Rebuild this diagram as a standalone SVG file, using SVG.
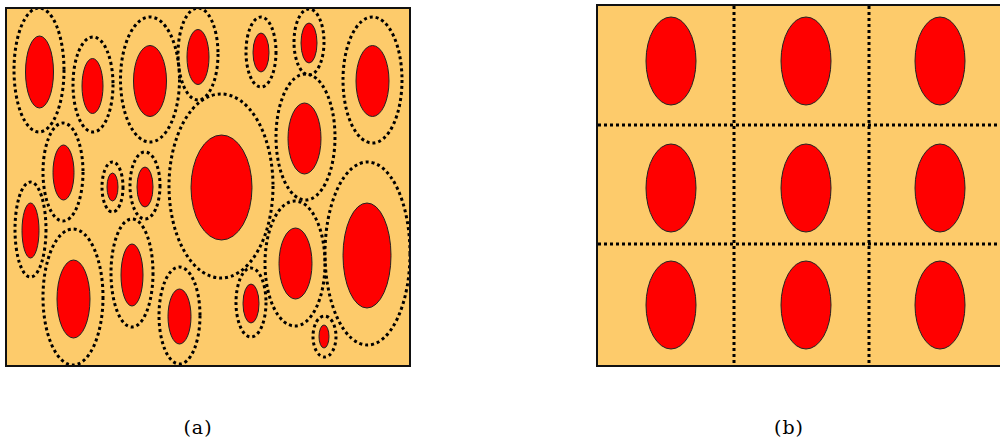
<svg xmlns="http://www.w3.org/2000/svg" width="1000" height="442" viewBox="0 0 1000 442">
<style>
.bg{fill:#FDCB6B;stroke:#111;stroke-width:2}
.cell{fill:#FF0000;stroke:#222;stroke-width:1}
.ring{fill:none;stroke:#000;stroke-width:3;stroke-dasharray:3 3}
.grid{fill:none;stroke:#000;stroke-width:3;stroke-dasharray:3 3}
.lbl{font-family:"DejaVu Serif","Liberation Serif",serif;font-size:19px;letter-spacing:1px;fill:#000;text-anchor:middle}
</style>
<defs>
<clipPath id="clipA"><rect x="6" y="8" width="404" height="357"/></clipPath>
</defs>
<rect class="bg" x="6" y="8" width="404" height="358"/>
<g clip-path="url(#clipA)">
<g id="a1"><ellipse class="ring" cx="39" cy="70" rx="25" ry="62"/><ellipse class="cell" cx="39.5" cy="72" rx="14" ry="36"/></g>
<g id="a2"><ellipse class="ring" cx="93" cy="84.5" rx="20" ry="47.5"/><ellipse class="cell" cx="92.5" cy="86" rx="10.5" ry="27.5"/></g>
<g id="a3"><ellipse class="ring" cx="150" cy="79.5" rx="29.5" ry="62.5"/><ellipse class="cell" cx="150" cy="81" rx="16.5" ry="35.5"/></g>
<g id="a4"><ellipse class="ring" cx="198" cy="54" rx="20" ry="46"/><ellipse class="cell" cx="198" cy="57" rx="11" ry="27.5"/></g>
<g id="a5"><ellipse class="ring" cx="261" cy="52" rx="15" ry="35"/><ellipse class="cell" cx="261" cy="52.5" rx="8" ry="19.5"/></g>
<g id="a6"><ellipse class="ring" cx="309" cy="42" rx="15" ry="33"/><ellipse class="cell" cx="309" cy="43" rx="8" ry="20"/></g>
<g id="a7"><ellipse class="ring" cx="372.5" cy="80" rx="29.5" ry="63"/><ellipse class="cell" cx="372.5" cy="81" rx="16.5" ry="35.5"/></g>
<g id="a8"><ellipse class="ring" cx="221" cy="186" rx="52" ry="92"/><ellipse class="cell" cx="221.5" cy="187.5" rx="30.5" ry="52.5"/></g>
<g id="a9"><ellipse class="ring" cx="305.5" cy="137" rx="29.5" ry="63"/><ellipse class="cell" cx="304.5" cy="138.5" rx="16.5" ry="35.5"/></g>
<g id="a10"><ellipse class="ring" cx="367.5" cy="253.5" rx="42.5" ry="91.5"/><ellipse class="cell" cx="367" cy="255.5" rx="24" ry="52.5"/></g>
<g id="a11"><ellipse class="ring" cx="295" cy="263.5" rx="30" ry="62.5"/><ellipse class="cell" cx="295.5" cy="263.5" rx="16.5" ry="35.5"/></g>
<g id="a12"><ellipse class="ring" cx="251" cy="302.5" rx="15" ry="34.5"/><ellipse class="cell" cx="251" cy="303.5" rx="8" ry="19.5"/></g>
<g id="a13"><ellipse class="ring" cx="324.5" cy="336.5" rx="11.5" ry="20.5"/><ellipse class="cell" cx="324" cy="336.5" rx="5" ry="11.5"/></g>
<g id="a14"><ellipse class="ring" cx="179.5" cy="315.5" rx="20.5" ry="48.5"/><ellipse class="cell" cx="179.5" cy="316.5" rx="11.5" ry="27.5"/></g>
<g id="a15"><ellipse class="ring" cx="132" cy="273" rx="21" ry="54"/><ellipse class="cell" cx="132" cy="275" rx="11" ry="31"/></g>
<g id="a16"><ellipse class="ring" cx="73" cy="297" rx="30" ry="68"/><ellipse class="cell" cx="73.5" cy="299" rx="16.5" ry="39"/></g>
<g id="a17"><ellipse class="ring" cx="30.5" cy="229.5" rx="15.5" ry="47.5"/><ellipse class="cell" cx="30.5" cy="230.5" rx="8.5" ry="27.5"/></g>
<g id="a18"><ellipse class="ring" cx="63" cy="172" rx="20" ry="49"/><ellipse class="cell" cx="63.5" cy="172.5" rx="10.5" ry="27.5"/></g>
<g id="a19"><ellipse class="ring" cx="112.5" cy="187" rx="10.5" ry="25"/><ellipse class="cell" cx="112.5" cy="187" rx="5.5" ry="14"/></g>
<g id="a20"><ellipse class="ring" cx="145" cy="185.5" rx="15" ry="33.5"/><ellipse class="cell" cx="145" cy="187" rx="8" ry="20"/></g>
</g>
<rect x="6" y="8" width="404" height="358" fill="none" stroke="#111" stroke-width="2"/>

<rect class="bg" x="597" y="5" width="406" height="361"/>
<g id="connectors">
<line class="grid" x1="734" y1="6" x2="734" y2="365"/>
<line class="grid" x1="869" y1="6" x2="869" y2="365"/>
<line class="grid" x1="598" y1="125" x2="1000" y2="125"/>
<line class="grid" x1="598" y1="244" x2="1000" y2="244"/>
</g>
<g id="b11"><ellipse class="cell" cx="671" cy="61" rx="25" ry="44"/></g>
<g id="b12"><ellipse class="cell" cx="806" cy="61" rx="25" ry="44"/></g>
<g id="b13"><ellipse class="cell" cx="940" cy="61" rx="25" ry="44"/></g>
<g id="b21"><ellipse class="cell" cx="671" cy="188" rx="25" ry="44"/></g>
<g id="b22"><ellipse class="cell" cx="806" cy="188" rx="25" ry="44"/></g>
<g id="b23"><ellipse class="cell" cx="940" cy="188" rx="25" ry="44"/></g>
<g id="b31"><ellipse class="cell" cx="671" cy="305" rx="25" ry="44"/></g>
<g id="b32"><ellipse class="cell" cx="806" cy="305" rx="25" ry="44"/></g>
<g id="b33"><ellipse class="cell" cx="940" cy="305" rx="25" ry="44"/></g>

<text class="lbl" x="198" y="434">(a)</text>
<text class="lbl" x="789" y="434">(b)</text>
</svg>
